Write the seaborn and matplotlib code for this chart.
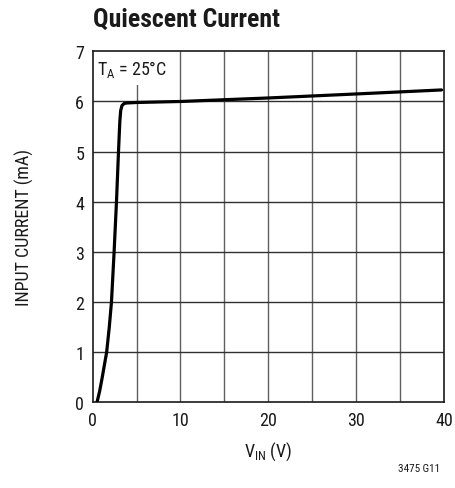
import matplotlib
matplotlib.use("Agg")
import matplotlib.pyplot as plt
import seaborn as sns
import pandas as pd
from matplotlib.patches import Rectangle

vin = [0.5, 0.8, 1.1, 1.35, 1.6, 1.9, 2.15, 2.45, 2.72, 2.95, 3.1, 3.2, 3.35, 3.6, 3.9, 5, 10, 20, 30, 39.7]
current = [0.0, 0.22, 0.5, 0.75, 1.0, 1.5, 2.0, 3.0, 4.0, 5.0, 5.6, 5.82, 5.92, 5.96, 5.97, 5.98, 6.0, 6.07, 6.15, 6.23]
x_ticks = [0, 10, 20, 30, 40]
y_ticks = [0, 1, 2, 3, 4, 5, 6, 7]

sns.set_style("white")
plt.rcParams['font.family'] = ['Roboto Condensed', 'DejaVu Sans']
plt.rcParams['mathtext.fontset'] = 'custom'
plt.rcParams['mathtext.rm'] = 'Roboto Condensed'
plt.rcParams['mathtext.it'] = 'Roboto Condensed'
plt.rcParams['text.color'] = '#1a1a1a'

df = pd.DataFrame({"vin": vin, "current": current})

fig = plt.figure(figsize=(4.56, 4.89), dpi=100)
ax = fig.add_axes([0.203, 0.175, 0.771, 0.718])

for xv in range(5, 40, 5):
    ax.axvline(xv, color="#606060", lw=1.0, zorder=1)
for yv in range(1, 7):
    ax.axhline(yv, color="#303030", lw=1.0, zorder=1)

ax.add_patch(Rectangle((0, 6.33), 9.85, 0.67, facecolor="white", edgecolor="none", zorder=2))
ax.text(0.55, 6.66, r"T$_\mathregular{A}$ = 25°C", fontsize=13, va="center", ha="left", zorder=3)

sns.lineplot(data=df, x="vin", y="current", ax=ax, color="black", lw=2.3, zorder=4)

ax.set_xlim(0, 40)
ax.set_ylim(0, 7)
ax.set_xticks(x_ticks)
ax.set_yticks(y_ticks)
ax.tick_params(axis="both", length=0, labelsize=13, pad=6, colors="#1a1a1a")
for s in ax.spines.values():
    s.set_color("#1a1a1a")
    s.set_linewidth(1.2)
ax.set_xlabel(r"V$_\mathregular{IN}$ (V)", fontsize=13, labelpad=8, color="#1a1a1a")
ax.set_ylabel("INPUT CURRENT (mA)", fontsize=13, labelpad=30, color="#1a1a1a")

fig.text(0.203, 0.96, "Quiescent Current", fontsize=18.5, fontweight="bold", ha="left", va="center")
fig.text(0.92, 0.04, "3475 G11", fontsize=8, ha="center", va="center", color="#1a1a1a")

fig.savefig("out.png", dpi=100)
